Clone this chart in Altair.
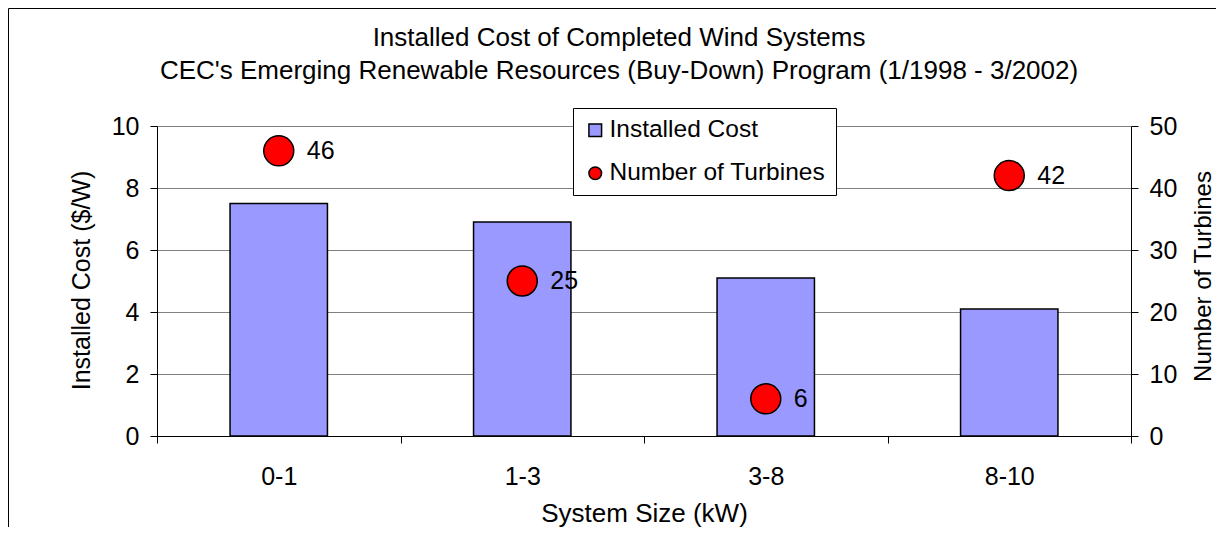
import altair as alt
import pandas as pd

categories = ["0-1", "1-3", "3-8", "8-10"]
installed_cost = [7.5, 6.9, 5.1, 4.1]
turbines = [46, 25, 6, 42]
series_names = ["Installed Cost", "Number of Turbines"]
series_colors = ["#9999FF", "#FF0000"]

FONT = "Liberation Sans"

cost_df = pd.DataFrame({"size": categories, "cost": installed_cost, "series": series_names[0]})
turb_df = pd.DataFrame({"size": categories, "turbines": turbines, "series": series_names[1]})

legend = alt.Legend(
    title=None, orient="none", legendX=416, legendY=-18,
    fillColor="white", strokeColor="black", padding=10,
    labelFont=FONT, labelFontSize=24.5, labelColor="black", labelLimit=400,
    symbolSize=160, symbolStrokeColor="black", symbolStrokeWidth=1.5,
    rowPadding=18, labelOffset=2,
)
color_scale = alt.Scale(domain=series_names, range=series_colors)

x_enc = alt.X(
    "size:N", sort=categories,
    scale=alt.Scale(paddingInner=0, paddingOuter=0),
    axis=alt.Axis(
        title="System Size (kW)", labelAngle=0, tickBand="extent", tickSize=7,
        labelPadding=21, domainColor="black", tickColor="black",
        titleY=85, titleBaseline="alphabetic", titleFontSize=26,
    ),
)

bars = alt.Chart(cost_df).mark_bar(
    stroke="black", strokeWidth=1.5, width=alt.RelativeBandSize(0.4)
).encode(
    x=x_enc,
    y=alt.Y(
        "cost:Q", scale=alt.Scale(domain=[0, 10], nice=False),
        axis=alt.Axis(
            values=[0, 2, 4, 6, 8, 10], grid=True, gridColor="#808080",
            domainColor="black", tickColor="black", tickSize=7, labelPadding=11,
            title="Installed Cost ($/W)", titleAngle=270, titleX=-76, titleY=154,
            titleBaseline="middle", titleAlign="center", titleFontSize=25,
        ),
    ),
    color=alt.Color("series:N", scale=color_scale, legend=legend),
)

points = alt.Chart(turb_df).mark_point(
    filled=True, size=900, stroke="black", strokeWidth=1.5, opacity=1
).encode(
    x=x_enc,
    y=alt.Y(
        "turbines:Q", scale=alt.Scale(domain=[0, 50], nice=False),
        axis=alt.Axis(
            orient="right", values=[0, 10, 20, 30, 40, 50], grid=False,
            domainColor="black", tickColor="black", tickSize=7, labelPadding=11,
            title="Number of Turbines", titleAngle=270, titleX=72, titleY=150,
            titleBaseline="middle", titleAlign="center", titleFontSize=24,
        ),
    ),
    color=alt.Color("series:N", scale=color_scale, legend=legend),
    shape=alt.Shape("series:N", scale=alt.Scale(domain=series_names, range=["square", "circle"]), legend=legend),
)

labels = alt.Chart(turb_df).mark_text(
    align="left", baseline="middle", dx=28, fontSize=25, font=FONT, color="black"
).encode(
    x=alt.X("size:N", sort=categories),
    y=alt.Y("turbines:Q"),
    text=alt.Text("turbines:Q"),
)

frame = alt.Chart(pd.DataFrame({"a": [0]})).mark_rect(
    fill=None, stroke="black", strokeWidth=1
).encode(
    x=alt.value(-148.5), x2=alt.value(1120), y=alt.value(-117.5), y2=alt.value(420)
)

chart = alt.layer(
    bars, alt.layer(points, labels), frame
).resolve_scale(
    y="independent"
).properties(
    width=974, height=310,
    padding={"left": 149, "top": 118, "right": 85, "bottom": 91},
    autosize=alt.AutoSizeParams(type="none"),
    title=alt.TitleParams(
        text=["Installed Cost of Completed Wind Systems",
              "CEC's Emerging Renewable Resources (Buy-Down) Program (1/1998 - 3/2002)"],
        font=FONT, fontSize=26, fontWeight="normal", color="black",
        anchor="middle", frame="group", dx=-25, offset=0, dy=102, lineHeight=33,
        baseline="bottom",
    ),
).configure_view(
    stroke=None
).configure_axis(
    labelFont=FONT, titleFont=FONT, labelFontSize=25, titleFontSize=25,
    titleFontWeight="normal", labelColor="black", titleColor="black",
)

chart.save("out.html", embed_options={"renderer": "svg", "actions": False})
